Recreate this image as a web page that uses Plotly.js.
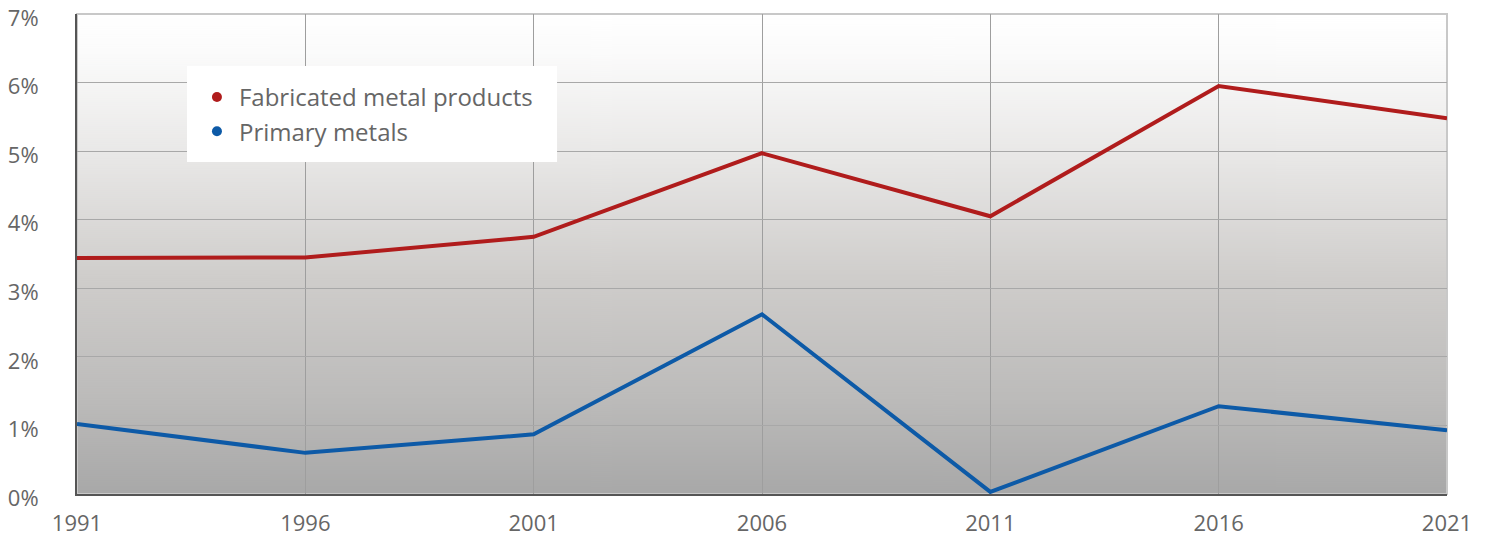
<!DOCTYPE html>
<html>
<head>
<meta charset="utf-8">
<script src="https://cdn.plot.ly/plotly-3.0.1.min.js"></script>
<style>html,body{margin:0;padding:0;background:#fff;}#chart{width:1489px;height:538px;}</style>
</head>
<body>
<div id="chart"></div>
<script>
const years = [1991, 1996, 2001, 2006, 2011, 2016, 2021];
const fabricatedMetal = [3.44, 3.45, 3.75, 4.97, 4.05, 5.95, 5.48];
const primaryMetals = [1.02, 0.60, 0.87, 2.62, 0.03, 1.28, 0.93];
const seriesNames = ['Fabricated metal products', 'Primary metals'];
const seriesColors = ['#b01c1c', '#0d5aa7'];
const yTicks = [0, 1, 2, 3, 4, 5, 6, 7];
const yTickLabels = ['0%', '1%', '2%', '3%', '4%', '5%', '6%', '7%'];

// gradient background image
const cv = document.createElement('canvas');
cv.width = 4; cv.height = 480;
const ctx = cv.getContext('2d');
const g = ctx.createLinearGradient(0, 0, 0, 480);
g.addColorStop(0, '#ffffff');
g.addColorStop(0.08, '#fbfbfb');
g.addColorStop(0.3, '#e8e7e6');
g.addColorStop(0.55, '#cfcdcb');
g.addColorStop(0.8, '#bcbbba');
g.addColorStop(1, '#a8a8a8');
ctx.fillStyle = g;
ctx.fillRect(0, 0, 4, 480);
const bg = cv.toDataURL('image/png');

const traces = [
  {x: years, y: fabricatedMetal, mode: 'lines', line: {color: seriesColors[0], width: 4}, showlegend: false, hoverinfo: 'skip'},
  {x: years, y: primaryMetals, mode: 'lines', line: {color: seriesColors[1], width: 4}, showlegend: false, hoverinfo: 'skip'},
  {x: [null], y: [null], mode: 'markers', name: seriesNames[0], marker: {color: seriesColors[0], size: 10}},
  {x: [null], y: [null], mode: 'markers', name: seriesNames[1], marker: {color: seriesColors[1], size: 10}}
];

const font = {family: 'Open Sans, sans-serif', size: 22, color: '#666'};

const layout = {
  width: 1489, height: 538,
  margin: {l: 77, r: 42, t: 14, b: 44},
  paper_bgcolor: '#ffffff',
  plot_bgcolor: '#ffffff',
  font: font,
  showlegend: true,
  legend: {
    x: 0.0861, y: 0.873, xanchor: 'left', yanchor: 'top',
    bgcolor: 'rgba(0,0,0,0)', borderwidth: 0,
    font: {family: 'Open Sans, sans-serif', size: 24, color: '#666'},
    itemwidth: 34,
    tracegroupgap: 0
  },
  xaxis: {
    range: [1991, 2021], tick0: 1991, dtick: 5,
    showgrid: true, gridcolor: '#9e9e9e', gridwidth: 1,
    showline: true, linecolor: '#555', linewidth: 2,
    ticks: '', zeroline: false, fixedrange: true,
    tickfont: font, ticklabelstandoff: 9, ticklabeloverflow: 'allow'
  },
  yaxis: {
    range: [0, 7], tickmode: 'array', tickvals: yTicks, ticktext: yTickLabels,
    showgrid: true, gridcolor: '#a8a8a8', gridwidth: 1,
    showline: true, linecolor: '#555', linewidth: 2,
    ticks: '', zeroline: false, fixedrange: true,
    tickfont: font, ticklabelstandoff: 32, ticklabelshift: 4, ticklabeloverflow: 'allow'
  },
  images: [{source: bg, xref: 'paper', yref: 'paper', x: 0, y: 1, sizex: 1, sizey: 1, sizing: 'stretch', layer: 'below', xanchor: 'left', yanchor: 'top'}],
  shapes: [
    {type: 'rect', xref: 'paper', yref: 'paper', x0: 0, x1: 1, y0: 0, y1: 1, line: {color: '#c8c8c8', width: 2}, layer: 'below'},
    {type: 'rect', xref: 'paper', yref: 'paper', x0: 0.0803, x1: 0.3504, y0: 0.6917, y1: 0.8917, fillcolor: '#ffffff', line: {width: 0}, layer: 'above'}
  ]
};

Plotly.newPlot('chart', traces, layout, {displayModeBar: false, staticPlot: true});
</script>
</body>
</html>
